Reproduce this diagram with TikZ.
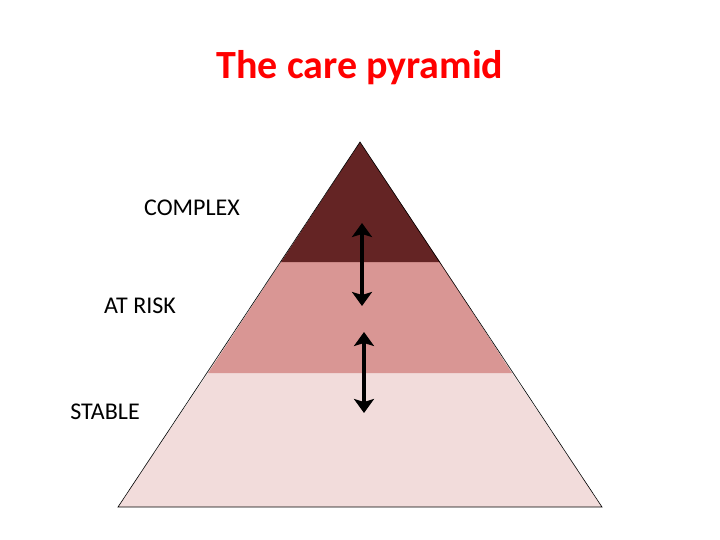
\documentclass[tikz,border=0pt]{standalone}
\usepackage{fontspec}
\setmainfont{Carlito}
\usetikzlibrary{arrows.meta}
\definecolor{dk}{HTML}{642424}
\definecolor{md}{HTML}{D99694}
\definecolor{lt}{HTML}{F2DCDB}
\begin{document}
\begin{tikzpicture}[x=1pt,y=-1pt,
  lbl/.style={font=\fontsize{24}{28}\selectfont,anchor=center},
  dbl/.style={line width=4.5pt,{Stealth[length=14pt,width=20pt,inset=3pt]}-{Stealth[length=14pt,width=20pt,inset=3pt]}}]
\useasboundingbox (0,0) rectangle (720,540);
\coordinate (apex) at (360,142);
\coordinate (bl) at (118,507);
\coordinate (br) at (602,507);
\fill[lt] (208,373) -- (512,373) -- (br) -- (bl) -- cycle;
\fill[md] (281,262) -- (440,262) -- (512,373) -- (208,373) -- cycle;
\fill[dk] (apex) -- (440,262) -- (281,262) -- cycle;
\draw[line width=0.6pt] (apex) -- (br) -- (bl) -- cycle;
\node[font=\bfseries\fontsize{40}{44}\selectfont,text=red] (title) at (360,68) {The care pyramid};
\node[lbl] (c) at (192,208) {COMPLEX};
\node[lbl] (a) at (140,306) {AT RISK};
\node[lbl] (s) at (105,412) {STABLE};
\coordinate (a1) at (362,223);
\coordinate (a2) at (362,306);
\coordinate (b1) at (364,332);
\coordinate (b2) at (364,413);
\draw[dbl] (a1) -- (a2);
\draw[dbl] (b1) -- (b2);
\end{tikzpicture}
\end{document}
